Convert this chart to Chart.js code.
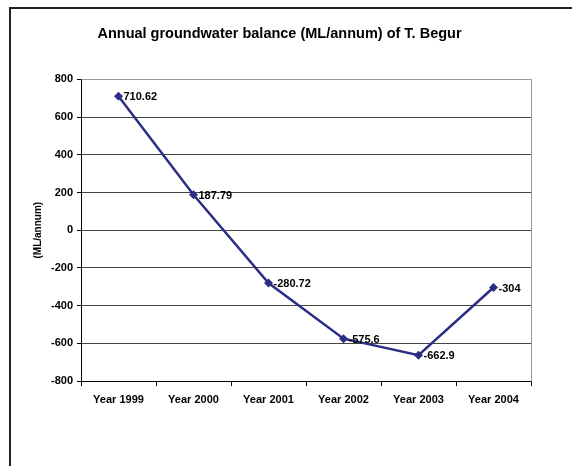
<!DOCTYPE html>
<html>
<head>
<meta charset="utf-8">
<script src="https://cdn.jsdelivr.net/npm/chart.js@4"></script>
<style>
html, body { margin: 0; padding: 0; overflow: hidden; background: #fff; width: 572px; height: 466px; }
#frame { position: absolute; left: 9px; top: 7px; width: 700px; height: 700px; border: 2px solid #222; box-sizing: border-box; }
#c { position: absolute; left: 0; top: 0; }
</style>
</head>
<body>
<div id="frame"></div>
<canvas id="c" width="572" height="466"></canvas>
<script>
const chartTitle = 'Annual groundwater balance (ML/annum) of T. Begur';
const yAxisTitle = '(ML/annum)';
const categories = ['Year 1999', 'Year 2000', 'Year 2001', 'Year 2002', 'Year 2003', 'Year 2004'];
const balance = [710.62, 187.79, -280.72, -575.6, -662.9, -304];
const yMin = -800, yMax = 800, yStep = 200;

const FONT = "'Liberation Sans', Arial, sans-serif";
const LINE_COLOR = '#2B2E83';

const plotFrame = {
  id: 'plotFrame',
  beforeDraw(chart) {
    const a = chart.chartArea, ctx = chart.ctx;
    ctx.save();
    ctx.fillStyle = '#fff';
    ctx.fillRect(a.left, a.top, a.right - a.left, a.bottom - a.top);
    ctx.restore();
  },
  afterDraw(chart) {
    const a = chart.chartArea, ctx = chart.ctx;
    ctx.save();
    ctx.strokeStyle = '#999';
    ctx.lineWidth = 1;
    ctx.beginPath();
    ctx.moveTo(Math.round(a.left) + 0.5, Math.round(a.top) + 0.5);
    ctx.lineTo(Math.round(a.right) + 0.5, Math.round(a.top) + 0.5);
    ctx.lineTo(Math.round(a.right) + 0.5, Math.round(a.bottom) + 0.5);
    ctx.stroke();
    ctx.restore();
  }
};

const pointLabels = {
  id: 'pointLabels',
  afterDatasetsDraw(chart) {
    const ctx = chart.ctx;
    const meta = chart.getDatasetMeta(0);
    ctx.save();
    ctx.font = 'bold 11px ' + FONT;
    ctx.fillStyle = '#000';
    ctx.textAlign = 'left';
    ctx.textBaseline = 'middle';
    meta.data.forEach((pt, i) => {
      ctx.fillText(String(chart.data.datasets[0].data[i]), pt.x + 5, pt.y + 1);
    });
    ctx.restore();
  }
};

new Chart(document.getElementById('c'), {
  type: 'line',
  data: {
    labels: categories,
    datasets: [{
      data: balance,
      borderColor: LINE_COLOR,
      backgroundColor: LINE_COLOR,
      borderWidth: 2.5,
      tension: 0,
      pointStyle: 'rectRot',
      pointRadius: 4.5,
      pointBorderWidth: 0,
      pointBackgroundColor: LINE_COLOR
    }]
  },
  options: {
    responsive: false,
    animation: false,
    layout: { padding: { left: 28, right: 41, top: 0, bottom: 45 } },
    plugins: {
      legend: { display: false },
      tooltip: { enabled: false },
      title: {
        display: true,
        text: chartTitle,
        color: '#000',
        font: { family: FONT, size: 14.5, weight: 'bold' },
        padding: { top: 25, bottom: 37 }
      }
    },
    scales: {
      x: {
        offset: true,
        afterFit(scale) { scale.height = 40; },
        grid: { drawOnChartArea: false, drawTicks: true, tickLength: 5, tickColor: '#000', offset: true },
        border: { color: '#000', width: 1 },
        ticks: { color: '#000', padding: 7, maxRotation: 0, autoSkip: false,
                 font: { family: FONT, size: 11, weight: 'bold' } }
      },
      y: {
        min: yMin, max: yMax,
        afterFit(scale) { scale.width = 53; },
        grid: {
          color: (c) => (c.tick && c.tick.value === yMax) ? '#999' : '#444',
          lineWidth: 1, drawTicks: true, tickLength: 4, tickColor: '#000'
        },
        border: { color: '#000', width: 1 },
        ticks: { stepSize: yStep, color: '#000', padding: 4,
                 font: { family: FONT, size: 11, weight: 'bold' } },
        title: {
          display: true, text: yAxisTitle, color: '#000',
          padding: { top: 4, bottom: 0 },
          font: { family: FONT, size: 10, weight: 'bold' }
        }
      }
    }
  },
  plugins: [plotFrame, pointLabels]
});
</script>
</body>
</html>
